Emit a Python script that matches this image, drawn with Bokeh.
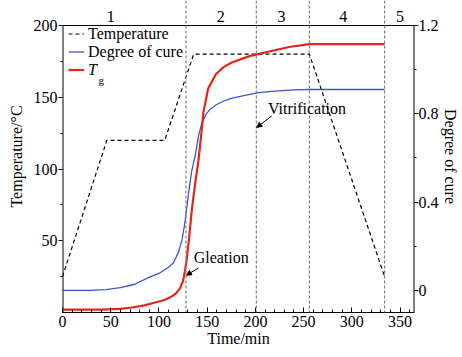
from bokeh.plotting import figure
from bokeh.models import (Range1d, LinearAxis, Span, Label, Arrow, NormalHead,
                          Legend, LegendItem, FixedTicker)
from bokeh.core.properties import value
from bokeh.embed import file_html
from bokeh.resources import INLINE

FONT = "Liberation Serif"

# ---- data ----
temp_time = [0, 46, 106, 136, 256, 334]
temp_vals = [25, 120, 120, 180, 180, 25]

cure_time = [0, 30, 45, 60, 75, 89, 100, 110, 115, 120, 124, 127, 129, 131, 134,
             138, 141, 144, 149, 153, 159, 167, 175, 188, 203, 220, 240, 256, 334]
cure_vals = [0, 0, 0.004, 0.013, 0.028, 0.058, 0.077, 0.105, 0.125, 0.17, 0.23, 0.31,
             0.38, 0.45, 0.54, 0.62, 0.70, 0.75, 0.80, 0.82, 0.84, 0.858, 0.87, 0.882,
             0.896, 0.903, 0.908, 0.91, 0.91]

tg_time = [0, 40, 60, 72, 85, 96, 105, 113, 118, 122, 125, 127, 129, 131, 134, 138,
           141, 144, 146, 151, 159, 167, 175, 193, 212, 235, 256, 334]
tg_vals = [2, 2, 2.5, 3.5, 5, 7, 8.5, 11, 13.5, 17, 22, 29, 38, 50, 71, 92,
           106, 125, 139, 156, 166, 171, 174, 178.5, 181.5, 185, 187, 187]

phase_bounds = [128, 201, 256, 334]
phase_labels = ["1", "2", "3", "4", "5"]
phase_label_x = [50, 164, 227, 291, 350]

x_ticks = [0, 50, 100, 150, 200, 250, 300, 350]
x_minor = list(range(0, 361, 10))
left_ticks = [50, 100, 150, 200]
left_minor = [25, 75, 125, 175]
right_ticks = [0, 0.4, 0.8, 1.2]
right_minor = [0.2, 0.6, 1.0]

X0, X1 = 0, 365          # time axis
T0, T1 = 0, 200          # temperature axis (boxed part)
C0, C1 = -0.1, 1.2       # degree-of-cure axis (boxed part)

FW, FH = 352, 287        # boxed area in px
TOP = 25                 # strip above the box, holding the phase numbers
scale = (FH + TOP) / FH

p = figure(frame_width=FW, frame_height=FH + TOP,
           x_range=Range1d(X0, X1), y_range=Range1d(T0, T0 + (T1 - T0) * scale),
           output_backend="svg", toolbar_location=None,
           min_border_left=62, min_border_top=0, min_border_bottom=0, min_border_right=0)
p.grid.visible = False
p.outline_line_color = None
p.extra_y_ranges = {"cure": Range1d(C0, C0 + (C1 - C0) * scale)}

def style_axis(ax):
    ax.axis_line_color = "black"
    ax.major_tick_line_color = "black"
    ax.minor_tick_line_color = "black"
    ax.major_label_text_font = FONT
    ax.major_label_text_font_size = "16px"
    ax.major_label_text_color = "black"
    ax.axis_label_text_font = FONT
    ax.axis_label_text_font_size = "16px"
    ax.axis_label_text_font_style = "normal"
    ax.axis_label_text_color = "black"

xa = p.xaxis[0]
xa.ticker = FixedTicker(ticks=x_ticks, minor_ticks=x_minor)
xa.axis_label = "Time/min"
style_axis(xa)
xa.major_tick_in = 5
xa.major_tick_out = 0
xa.minor_tick_in = 3
xa.minor_tick_out = 0
xa.major_label_standoff = 3
xa.axis_label_standoff = 0

ya = p.yaxis[0]
ya.ticker = FixedTicker(ticks=left_ticks, minor_ticks=left_minor)
ya.axis_label = "Temperature/°C"
style_axis(ya)
ya.axis_line_color = None
ya.major_tick_in = 0
ya.major_tick_out = 4
ya.minor_tick_in = 0
ya.minor_tick_out = 2
ya.major_label_standoff = 1
ya.axis_label_standoff = 6

ra = LinearAxis(y_range_name="cure", ticker=FixedTicker(ticks=right_ticks, minor_ticks=right_minor),
                axis_label="Degree of cure")
style_axis(ra)
ra.axis_line_color = None
ra.major_tick_in = 0
ra.major_tick_out = 4
ra.minor_tick_in = 0
ra.minor_tick_out = 2
ra.major_label_standoff = 0
ra.axis_label_standoff = 0
p.add_layout(ra, "right")

# box: top edge and the two sides stop at the top of the temperature scale
p.add_layout(Span(location=T1, dimension="width", line_color="black", line_width=1))
p.segment(x0=[X0, X1], y0=[T0, T0], x1=[X0, X1], y1=[T1, T1], line_color="black", line_width=2)

# phase boundaries run up through the number strip
for b in phase_bounds:
    p.add_layout(Span(location=b, dimension="height", line_color="#808080",
                      line_dash="3 2", line_width=1.2))
p.text(x=phase_label_x, y=[T1 + (T1 - T0) * 0.03] * len(phase_label_x), text=phase_labels,
       text_font=value(FONT), text_font_size="16px", text_align="center",
       text_baseline="middle", text_color="black")

temp_r = p.line(temp_time, temp_vals, line_color="black", line_dash="4 3", line_width=1.2)
cure_r = p.line(cure_time, cure_vals, y_range_name="cure", line_color="#3d56c4", line_width=1.3)
tg_r = p.line(tg_time, tg_vals, line_color="#e8231a", line_width=2.2)

def mk_legend(items, loc, style="normal"):
    return Legend(items=items, location=loc, padding=6, margin=0, spacing=0,
                  label_height=17, glyph_height=17, glyph_width=16, label_standoff=4,
                  label_text_font=FONT, label_text_font_size="16px",
                  label_text_font_style=style, label_text_color="black",
                  border_line_alpha=0, background_fill_alpha=0)

# legend location tuple = bottom-left corner of the legend box, from frame bottom-left
p.add_layout(mk_legend([LegendItem(label="Temperature", renderers=[temp_r]),
                        LegendItem(label="Degree of cure", renderers=[cure_r])], (0, FH - 41.5)))
p.add_layout(mk_legend([LegendItem(label="T", renderers=[tg_r])], (0, FH - 59.5), "italic"))
p.add_layout(Label(x=36, y=FH - 48, x_units="screen", y_units="screen", text="g",
                   text_font=FONT, text_font_size="11px", text_color="black",
                   text_baseline="top"))

# annotations
p.add_layout(Label(x=136, y=38, text="Gleation", text_font=FONT, text_font_size="16px",
                   text_baseline="middle", text_align="left", text_color="black"))
p.add_layout(Arrow(end=NormalHead(size=5, fill_color="black", line_color="black"),
                   x_start=141, y_start=31, x_end=128.5, y_end=26,
                   line_color="black", line_width=1))
p.add_layout(Label(x=213, y=142, text="Vitrification", text_font=FONT, text_font_size="16px",
                   text_baseline="middle", text_align="left", text_color="black"))
p.add_layout(Arrow(end=NormalHead(size=5, fill_color="black", line_color="black"),
                   x_start=217, y_start=137, x_end=201.5, y_end=129,
                   line_color="black", line_width=1))

open("out.html", "w").write(file_html(p, INLINE))
